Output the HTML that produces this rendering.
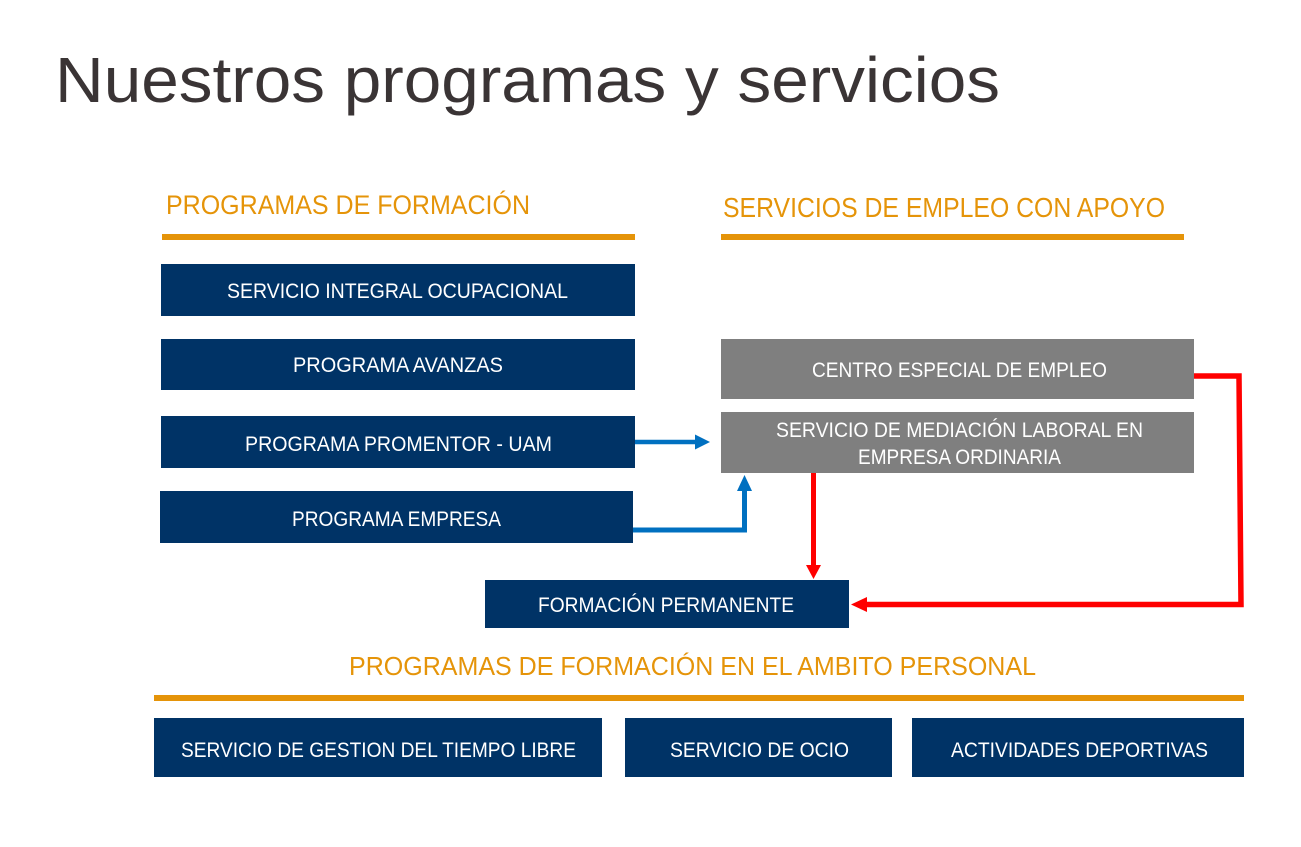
<!DOCTYPE html>
<html>
<head>
<meta charset="utf-8">
<style>
  html, body { margin: 0; padding: 0; background: #ffffff; }
  body { width: 1301px; height: 847px; overflow: hidden; }
  svg { display: block; }
  text { font-family: "Liberation Sans", Arial, sans-serif; }
</style>
</head>
<body>
<svg width="1301" height="847" viewBox="0 0 1301 847" xmlns="http://www.w3.org/2000/svg">
  <rect x="0" y="0" width="1301" height="847" fill="#ffffff"/>

  <!-- Title -->
  <text x="55" y="102" font-size="64" fill="#3a3435" textLength="945" lengthAdjust="spacingAndGlyphs">Nuestros programas y servicios</text>

  <!-- Section headers -->
  <text x="166" y="214" font-size="27" fill="#E59409" textLength="364" lengthAdjust="spacingAndGlyphs">PROGRAMAS DE FORMACIÓN</text>
  <rect x="162" y="234" width="473" height="6" fill="#E59409"/>

  <text x="723" y="217" font-size="28" fill="#E59409" textLength="442" lengthAdjust="spacingAndGlyphs">SERVICIOS DE EMPLEO CON APOYO</text>
  <rect x="721" y="234" width="463" height="6" fill="#E59409"/>

  <text x="349" y="675" font-size="26" fill="#E59409" textLength="687" lengthAdjust="spacingAndGlyphs">PROGRAMAS DE FORMACIÓN EN EL AMBITO PERSONAL</text>
  <rect x="154" y="695" width="1090" height="6" fill="#E59409"/>

  <!-- Left boxes -->
  <rect x="161" y="264" width="474" height="52" fill="#003366"/>
  <text x="227" y="298" font-size="21" fill="#ffffff" textLength="341" lengthAdjust="spacingAndGlyphs">SERVICIO INTEGRAL OCUPACIONAL</text>

  <rect x="161" y="339" width="474" height="51" fill="#003366"/>
  <text x="293" y="372" font-size="21" fill="#ffffff" textLength="210" lengthAdjust="spacingAndGlyphs">PROGRAMA AVANZAS</text>

  <rect x="161" y="416" width="474" height="52" fill="#003366"/>
  <text x="245" y="451" font-size="21" fill="#ffffff" textLength="307" lengthAdjust="spacingAndGlyphs">PROGRAMA PROMENTOR - UAM</text>

  <rect x="160" y="491" width="473" height="52" fill="#003366"/>
  <text x="292" y="526" font-size="21" fill="#ffffff" textLength="209" lengthAdjust="spacingAndGlyphs">PROGRAMA EMPRESA</text>

  <!-- Formación permanente -->
  <rect x="485" y="580" width="364" height="48" fill="#003366"/>
  <text x="538" y="612" font-size="21" fill="#ffffff" textLength="256" lengthAdjust="spacingAndGlyphs">FORMACIÓN PERMANENTE</text>

  <!-- Grey boxes -->
  <rect x="721" y="339" width="473" height="60" fill="#7f7f7f"/>
  <text x="812" y="377" font-size="21" fill="#ffffff" textLength="295" lengthAdjust="spacingAndGlyphs">CENTRO ESPECIAL DE EMPLEO</text>

  <rect x="721" y="412" width="473" height="61" fill="#7f7f7f"/>
  <text x="776" y="437" font-size="21" fill="#ffffff" textLength="367" lengthAdjust="spacingAndGlyphs">SERVICIO DE MEDIACIÓN LABORAL EN</text>
  <text x="858" y="464" font-size="21" fill="#ffffff" textLength="203" lengthAdjust="spacingAndGlyphs">EMPRESA ORDINARIA</text>

  <!-- Bottom boxes -->
  <rect x="154" y="718" width="448" height="59" fill="#003366"/>
  <text x="181" y="757" font-size="21" fill="#ffffff" textLength="395" lengthAdjust="spacingAndGlyphs">SERVICIO DE GESTION DEL TIEMPO LIBRE</text>

  <rect x="625" y="718" width="267" height="59" fill="#003366"/>
  <text x="670" y="757" font-size="21" fill="#ffffff" textLength="179" lengthAdjust="spacingAndGlyphs">SERVICIO DE OCIO</text>

  <rect x="912" y="718" width="332" height="59" fill="#003366"/>
  <text x="951" y="757" font-size="21" fill="#ffffff" textLength="257" lengthAdjust="spacingAndGlyphs">ACTIVIDADES DEPORTIVAS</text>

  <!-- Blue connectors -->
  <line x1="635" y1="442" x2="697" y2="442" stroke="#0070C0" stroke-width="4.5"/>
  <polygon points="695,434.5 710,442 695,449.5" fill="#0070C0"/>

  <polyline points="633,530 744.5,530 744.5,489" fill="none" stroke="#0070C0" stroke-width="5"/>
  <polygon points="737,491 744.5,475 752,491" fill="#0070C0"/>

  <!-- Red connectors -->
  <line x1="813.5" y1="473" x2="813.5" y2="567" stroke="#FF0000" stroke-width="5"/>
  <polygon points="806,565 813.5,579 821,565" fill="#FF0000"/>

  <polyline points="1194,376 1239,376 1241,604.5 865,604.5" fill="none" stroke="#FF0000" stroke-width="5.5"/>
  <polygon points="867,597 851,604.5 867,612" fill="#FF0000"/>
</svg>
</body>
</html>
